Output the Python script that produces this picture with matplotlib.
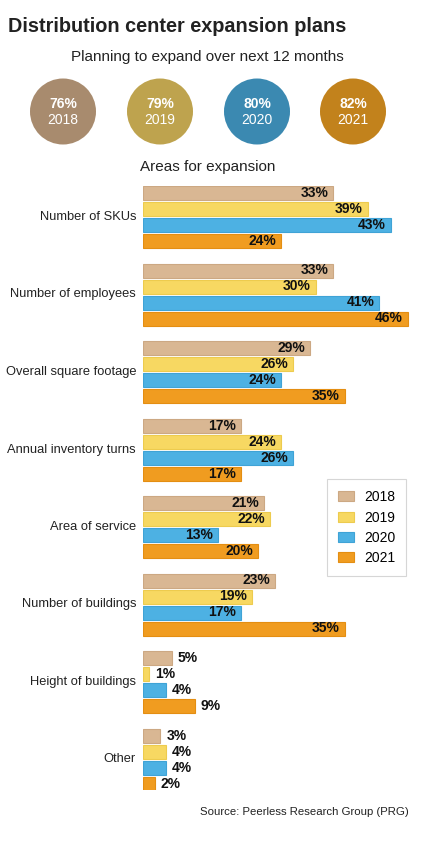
import numpy as np
import matplotlib.pyplot as plt
from matplotlib.patches import Circle, Patch

plt.rcParams['font.family'] = ['Liberation Sans', 'DejaVu Sans']

years = ['2018', '2019', '2020', '2021']
overall = [76, 79, 80, 82]
circle_colors = ['#A88B6E', '#BEA34E', '#3B89B1', '#C2821C']

areas = ['Number of SKUs', 'Number of employees', 'Overall square footage',
         'Annual inventory turns', 'Area of service', 'Number of buildings',
         'Height of buildings', 'Other']
v2018 = [33, 33, 29, 17, 21, 23, 5, 3]
v2019 = [39, 30, 26, 24, 22, 19, 1, 4]
v2020 = [43, 41, 24, 26, 13, 17, 4, 4]
v2021 = [24, 46, 35, 17, 20, 35, 9, 2]
bar_colors = ['#D9B793', '#F7D862', '#4DB1E3', '#F09C20']
edge_colors = ['#CCA883', '#EDCB4E', '#3FA3D6', '#E48E12']

W, H = 428, 844
fig = plt.figure(figsize=(W / 100, H / 100), dpi=100)

# header texts
fig.text(8 / W, 1 - 27 / H, 'Distribution center expansion plans',
         fontsize=14.3, fontweight='bold', color='#222222', va='center', ha='left')
fig.text(207 / W, 1 - 57 / H, 'Planning to expand over next 12 months',
         fontsize=11, color='#222222', va='center', ha='center')
fig.text(208 / W, 1 - 167 / H, 'Areas for expansion',
         fontsize=11, color='#222222', va='center', ha='center')

# circles row
cax = fig.add_axes([0, 1 - 160 / H, 1, 100 / H])
cax.set_xlim(0, W)
cax.set_ylim(160, 60)
cax.set_aspect('equal')
cax.axis('off')
centers_x = [63, 160, 257, 353]
for cx, pct, yr, col in zip(centers_x, overall, years, circle_colors):
    cax.add_patch(Circle((cx, 111.5), 33, color=col, lw=0))
    cax.text(cx, 104, f'{pct}%', color='white', fontsize=10, fontweight='bold',
             ha='center', va='center')
    cax.text(cx, 119.5, yr, color='white', fontsize=10, ha='center', va='center')

# bar chart, y in pixel units from the top of the first bar
top_px, bot_px = 186, 790
ax = fig.add_axes([143 / W, 1 - bot_px / H, 270 / W, (bot_px - top_px) / H])
per_pct = 5.76
ax.set_xlim(0, 270 / per_pct)
ax.set_ylim(bot_px - top_px, 0)
ax.axis('off')

group_pitch = 77.5
bar_pitch = 16
bar_h = 14
series = [v2018, v2019, v2020, v2021]
for j, (vals, col, ec) in enumerate(zip(series, bar_colors, edge_colors)):
    ys = np.arange(len(areas)) * group_pitch + j * bar_pitch + bar_h / 2
    ax.barh(ys, vals, height=bar_h, color=col, edgecolor=ec, lw=0.8,
            label=years[j])
    for y, v in zip(ys, vals):
        if v >= 10:
            ax.text(v - 5 / per_pct, y, f'{v}%', ha='right', va='center',
                    fontsize=10, fontweight='bold', color='#111111')
        else:
            ax.text(v + 6 / per_pct, y, f'{v}%', ha='left', va='center',
                    fontsize=10, fontweight='bold', color='#111111')

for i, name in enumerate(areas):
    yc = i * group_pitch + (3 * bar_pitch + bar_h) / 2
    ax.text(-7 / per_pct, yc, name, ha='right', va='center', fontsize=9.3,
            color='#222222')

handles = [Patch(facecolor=c, edgecolor=e, lw=0.8) for c, e in zip(bar_colors, edge_colors)]
leg = fig.legend(handles, years, loc='upper left',
                 bbox_to_anchor=(327 / W, 1 - 479 / H), fontsize=10,
                 frameon=True, fancybox=False, edgecolor='#CCCCCC',
                 handlelength=1.15, handleheight=0.72, labelspacing=0.46,
                 borderpad=0.8, handletextpad=0.72, borderaxespad=0)
leg.get_frame().set_linewidth(0.8)

fig.text(409 / W, 1 - 812 / H, 'Source: Peerless Research Group (PRG)',
         fontsize=8.2, color='#222222', ha='right', va='center')

fig.savefig('out.png', dpi=100)
